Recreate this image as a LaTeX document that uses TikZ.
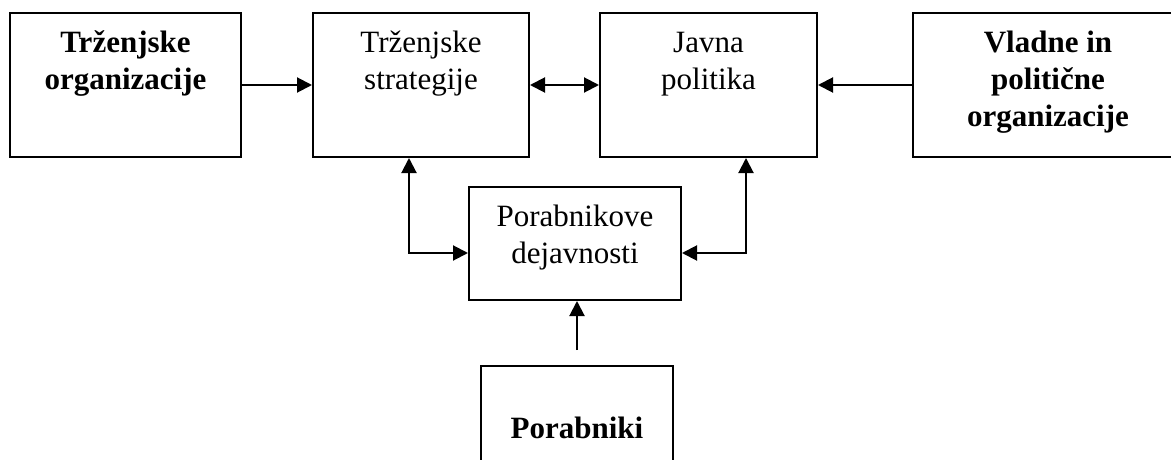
\documentclass[tikz,border=0pt]{standalone}
\usepackage{fontspec}
\setmainfont{Liberation Serif}
\usetikzlibrary{arrows.meta}
\begin{document}
\begin{tikzpicture}[x=1pt,y=-1pt,
  box/.style={draw=black, line width=2pt, rectangle, inner sep=0pt},
  lbl/.style={anchor=base, align=center, inner sep=0pt, font=\fontsize{31}{37}\selectfont},
  blbl/.style={lbl, font=\fontsize{31}{37}\selectfont\bfseries},
  conn/.style={line width=2pt, -{Triangle[length=15pt,width=15pt]}},
  conn2/.style={line width=2pt, {Triangle[length=15pt,width=15pt]}-{Triangle[length=15pt,width=15pt]}}
]
\clip (0,0) rectangle (1171,460);
\fill[white] (0,0) rectangle (1171,460);
% boxes
\node[box, minimum width=231pt, minimum height=144pt] (b1) at (125.5,85) {};
\node[box, minimum width=216pt, minimum height=144pt] (b2) at (421,85) {};
\node[box, minimum width=217pt, minimum height=144pt] (b3) at (708.5,85) {};
\node[box, minimum width=270pt, minimum height=144pt] (b4) at (1048,85) {};
\node[box, minimum width=212pt, minimum height=113pt] (b5) at (575,243.5) {};
\node[box, minimum width=192pt, minimum height=140pt] (b6) at (577,436) {};
% texts (anchor = baseline of the last line)
\node[blbl] (t1) at (125.5,90) {Trženjske\\organizacije};
\node[lbl] (t2) at (421,90) {Trženjske\\strategije};
\node[lbl] (t3) at (708.5,90) {Javna\\politika};
\node[blbl] (t4) at (1048,127) {Vladne in\\politične\\organizacije};
\node[lbl] (t5) at (575,263) {Porabnikove\\dejavnosti};
\node[blbl] (t6) at (577,438) {Porabniki};
% connectors
\coordinate (cl) at (409,253);
\coordinate (cr) at (746,253);
\coordinate (cb) at (577,350);
\draw[conn] (b1.east) -- (b2.west);
\draw[conn2] (b2.east) -- (b3.west);
\draw[conn] (b4.west) -- (b3.east);
\draw[conn2] (b2.south -| cl) -- (cl) -- (b5.west |- cl);
\draw[conn2] (b3.south -| cr) -- (cr) -- (b5.east |- cr);
\draw[conn] (cb) -- (b5.south -| cb);
\end{tikzpicture}
\end{document}
